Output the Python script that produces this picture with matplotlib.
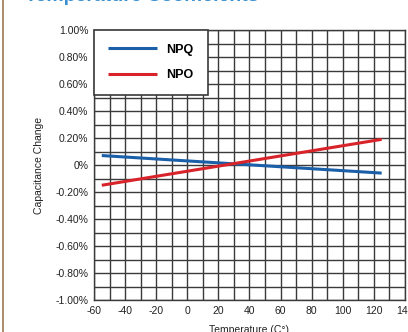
import numpy as np
import matplotlib.pyplot as plt

plt.rcParams['font.family'] = ['Liberation Sans', 'DejaVu Sans']

# data
temp = [-55, 125]
npq = [0.07, -0.06]
npo = [-0.15, 0.19]

x_ticks = [-60, -40, -20, 0, 20, 40, 60, 80, 100, 120, 140]
y_ticks = [1.0, 0.8, 0.6, 0.4, 0.2, 0.0, -0.2, -0.4, -0.6, -0.8, -1.0]
y_labels = ['1.00%', '0.80%', '0.60%', '0.40%', '0.20%', '0%',
            '-0.20%', '-0.40%', '-0.60%', '-0.80%', '-1.00%']

fig = plt.figure(figsize=(4.08, 3.32), dpi=100)
ax = fig.add_axes([94 / 408, 32 / 332, 311 / 408, 270 / 332])

ax.plot(temp, npq, color='#1a5fa8', lw=2.2, label='NPQ', solid_capstyle='butt')
ax.plot(temp, npo, color='#d8232a', lw=2.2, label='NPO', solid_capstyle='butt')

ax.set_xlim(-60, 140)
ax.set_ylim(-1.0, 1.0)
ax.set_xticks(x_ticks)
ax.set_xticklabels([str(t) for t in x_ticks], fontsize=7.5)
ax.set_yticks(y_ticks)
ax.set_yticklabels(y_labels, fontsize=7.5)
ax.set_xticks(np.arange(-60, 141, 10), minor=True)
ax.set_yticks(np.arange(-1.0, 1.01, 0.1), minor=True)
ax.tick_params(which='both', length=0, pad=4, colors='#222222')
ax.grid(which='both', color='#3a3a3a', lw=1.0)
ax.set_axisbelow(True)
for s in ax.spines.values():
    s.set_color('#3a3a3a')
    s.set_linewidth(1.0)

ax.set_xlabel('Temperature (C°)', fontsize=7.5, labelpad=7, color='#222222')
ax.set_ylabel('Capacitance Change', fontsize=7.5, labelpad=8, color='#222222')

leg = ax.legend(loc='upper left', bbox_to_anchor=(0, 1), borderaxespad=0,
                fancybox=False, framealpha=1, edgecolor='#3a3a3a',
                prop={'weight': 'bold', 'size': 9}, handlelength=3.9,
                labelspacing=1.1, borderpad=1.1, handletextpad=0.8)
leg.get_frame().set_linewidth(1.2)

# clipped title and page border
fig.text(25 / 408, 1 - 1 / 332, 'Temperature Coefficients', color='#3a8fd0',
         fontsize=14, fontweight='bold', va='baseline', ha='left')
fig.add_artist(plt.Line2D([3 / 408, 3 / 408], [0, 1], color='#a07850', lw=1.2))

fig.savefig('out.png', dpi=100)
